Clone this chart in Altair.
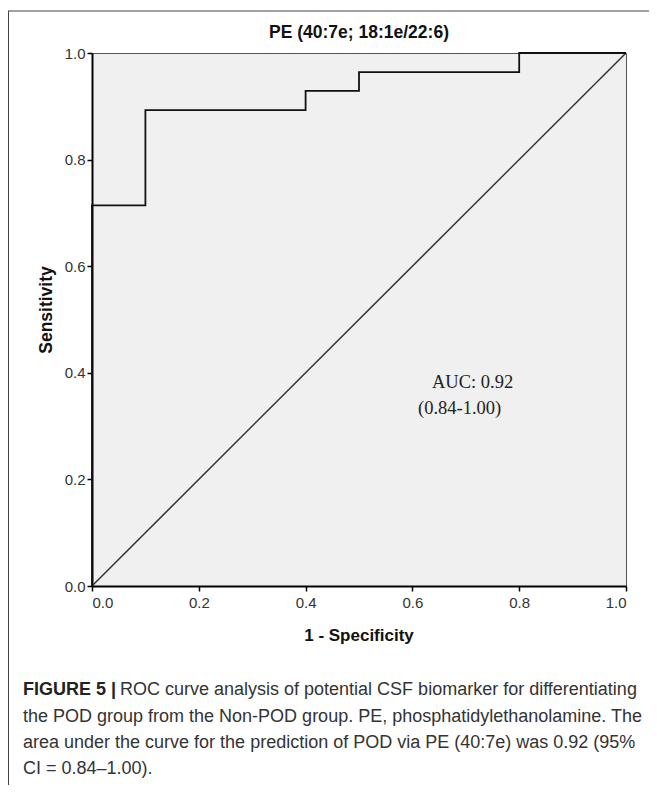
import altair as alt
import pandas as pd

# ROC curve points (1 - specificity, sensitivity)
fpr = [0.0, 0.0, 0.1, 0.1, 0.4, 0.4, 0.5, 0.5, 0.8, 0.8, 1.0]
tpr = [0.0, 0.714, 0.714, 0.893, 0.893, 0.929, 0.929, 0.964, 0.964, 1.0, 1.0]
diag_x = [0.0, 1.0]
diag_y = [0.0, 1.0]
tick_values = [0.0, 0.2, 0.4, 0.6, 0.8, 1.0]

title_text = "PE (40:7e; 18:1e/22:6)"
x_title = "1 - Specificity"
y_title = "Sensitivity"
auc_lines = ["AUC: 0.92", "(0.84-1.00)"]
caption_bold = "FIGURE 5 |"
caption_lines = [
    "ROC curve analysis of potential CSF biomarker for differentiating",
    "the POD group from the Non-POD group. PE, phosphatidylethanolamine. The",
    "area under the curve for the prediction of POD via PE (40:7e) was 0.92 (95%",
    "CI = 0.84\u20131.00).",
]

roc_df = pd.DataFrame({"fpr": fpr, "tpr": tpr, "order": list(range(len(fpr)))})
diag_df = pd.DataFrame({"fpr": diag_x, "tpr": diag_y})
one = pd.DataFrame({"a": [0]})

W, H = 534, 533
xs = alt.Scale(domain=[0, 1], nice=False)
ys = alt.Scale(domain=[0, 1], nice=False)

xaxis = alt.Axis(values=tick_values, format=".1f", title=None, grid=False, labelPadding=4,
                 labelFontSize=15, labelFont="Liberation Sans", labelColor="#333")
yaxis = alt.Axis(values=tick_values, format=".1f", title=None, grid=False, labelPadding=2,
                 labelFontSize=15, labelFont="Liberation Sans", labelColor="#333")

diag = alt.Chart(diag_df).mark_line(color="#333", strokeWidth=1.5).encode(
    x=alt.X("fpr:Q", scale=xs, axis=xaxis),
    y=alt.Y("tpr:Q", scale=ys, axis=yaxis),
)
roc = alt.Chart(roc_df).mark_line(color="#111", strokeWidth=1.8).encode(
    x=alt.X("fpr:Q", scale=xs, axis=xaxis),
    y=alt.Y("tpr:Q", scale=ys, axis=yaxis),
    order="order:Q",
)

def txt(text, x, y, size, weight="normal", font="Liberation Sans", align="left",
        color="#222", angle=0):
    return alt.Chart(one).mark_text(
        text=text, fontSize=size, fontWeight=weight, font=font, align=align,
        baseline="middle", color=color, angle=angle,
    ).encode(x=alt.value(x), y=alt.value(y))

layers = [diag, roc]
layers.append(txt(title_text, 267, -20, 17.5, "bold", align="center", color="#111"))
layers.append(txt(x_title, 267, 583, 17, "bold", align="center", color="#111"))
layers.append(txt(y_title, -45, 257, 17.5, "bold", align="center", color="#111", angle=270))
layers.append(txt(auc_lines[0], 340, 329, 18.5, font="Liberation Serif", color="#222"))
layers.append(txt(auc_lines[1], 326, 355, 18.5, font="Liberation Serif", color="#222"))

cap_font = "Liberation Sans"
cap_y = [637, 664, 690, 716]
layers.append(txt(caption_bold, -69, cap_y[0], 18, "bold", font=cap_font, color="#222"))
layers.append(txt(caption_lines[0], 28, cap_y[0], 18, font=cap_font, color="#333"))
for line, yy in zip(caption_lines[1:], cap_y[1:]):
    layers.append(txt(line, -69, yy, 18, font=cap_font, color="#333"))

# figure frame (left and top)
layers.append(alt.Chart(one).mark_rule(color="#444", strokeWidth=1).encode(
    x=alt.value(-83.5), y=alt.value(-42), y2=alt.value(800)))
layers.append(alt.Chart(one).mark_rule(color="#444", strokeWidth=1).encode(
    x=alt.value(-84), x2=alt.value(700), y=alt.value(-42)))

chart = alt.layer(*layers).properties(
    width=W, height=H,
    padding={"left": 84, "top": 45, "right": 23, "bottom": 199},
    autosize=alt.AutoSizeParams(type="none"),
).configure_view(
    fill="#f0f0f0", stroke="#555", strokeWidth=1
).configure_axis(
    domainColor="#000", domainWidth=2, tickColor="#000", tickSize=5,
    tickWidth=1.5,
)

chart.save("out.html", embed_options={"renderer": "svg", "actions": False})
